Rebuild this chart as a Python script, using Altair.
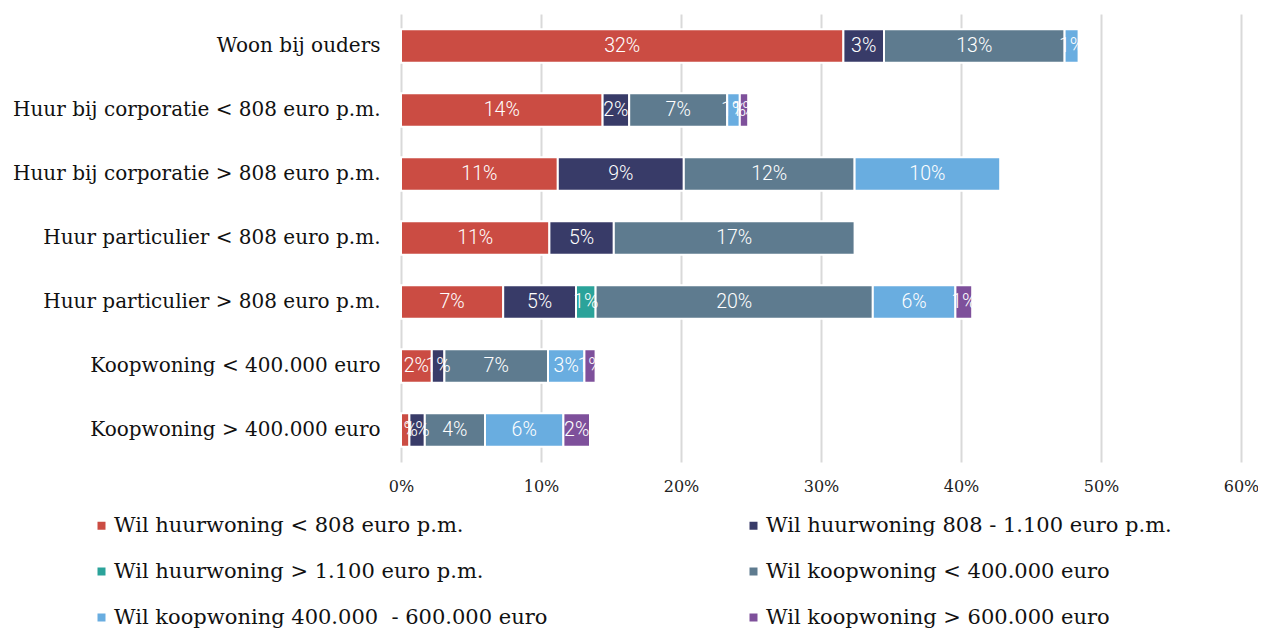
import altair as alt
import pandas as pd

categories = [
    "Woon bij ouders",
    "Huur bij corporatie < 808 euro p.m.",
    "Huur bij corporatie > 808 euro p.m.",
    "Huur particulier < 808 euro p.m.",
    "Huur particulier > 808 euro p.m.",
    "Koopwoning < 400.000 euro",
    "Koopwoning > 400.000 euro",
]

series = [
    "Wil huurwoning < 808 euro p.m.",
    "Wil huurwoning 808 - 1.100 euro p.m.",
    "Wil huurwoning > 1.100 euro p.m.",
    "Wil koopwoning < 400.000 euro",
    "Wil koopwoning 400.000\u00a0 - 600.000 euro",
    "Wil koopwoning > 600.000 euro",
]

colors = ["#CB4C43", "#383B68", "#2BA39A", "#5E7B8F", "#69ADE0", "#7E509B"]

# values in percent, per series, per category (None = absent)
huur_lt808 = [31.6, 14.4, 11.2, 10.6, 7.3, 2.2, 0.6]
huur_808_1100 = [2.9, 1.9, 9.0, 4.6, 5.2, 0.9, 1.1]
huur_gt1100 = [None, None, None, None, 1.4, None, None]
koop_lt400 = [12.9, 7.0, 12.2, 17.2, 19.8, 7.4, 4.3]
koop_400_600 = [1.0, 0.9, 10.4, None, 5.9, 2.6, 5.6]
koop_gt600 = [None, 0.6, None, None, 1.2, 0.8, 1.9]

all_series = [huur_lt808, huur_808_1100, huur_gt1100, koop_lt400, koop_400_600, koop_gt600]

rows = []
for si, (name, vals) in enumerate(zip(series, all_series)):
    for ci, v in enumerate(vals):
        if v is None:
            continue
        rows.append({"cat": categories[ci], "serie": name, "order": si,
                     "value": v, "label": f"{int(v + 0.5)}%"})
df = pd.DataFrame(rows)

SERIF = "DejaVu Serif"

base = alt.Chart(df).transform_stack(
    stack="value", groupby=["cat"], as_=["x0", "x1"],
    sort=[alt.SortField("order", order="ascending")]
)

y_enc = alt.Y("cat:N", sort=categories, title=None,
              scale=alt.Scale(paddingInner=0.48, paddingOuter=0.24),
              axis=alt.Axis(labelFont=SERIF, labelFontSize=20, labelColor="#111",
                            labelPadding=21, ticks=False, domain=False, grid=False,
                            labelLimit=500))

bars = base.mark_bar(stroke="white", strokeWidth=2).encode(
    x=alt.X("x0:Q", title=None,
            scale=alt.Scale(domain=[0, 60], nice=False),
            axis=alt.Axis(values=[0, 10, 20, 30, 40, 50, 60],
                          labelExpr="datum.value + '%'",
                          labelFont=SERIF, labelFontSize=16, labelColor="#222",
                          labelPadding=16, ticks=False, domain=False,
                          labelFlush=False, labelOverlap=False,
                          grid=True, gridColor="#d9d9d9", gridWidth=2)),
    x2="x1:Q",
    y=y_enc,
    color=alt.Color("serie:N", sort=series,
                    scale=alt.Scale(domain=series, range=colors),
                    legend=alt.Legend(title=None, orient="none",
                                      legendX=-310, legendY=501,
                                      direction="horizontal",
                                      columns=2, columnPadding=195,
                                      rowPadding=24,
                                      symbolType="square", symbolSize=64,
                                      symbolStrokeWidth=0,
                                      labelFont=SERIF, labelFontSize=21,
                                      labelColor="#111", labelOffset=2,
                                      labelLimit=600)),
    order=alt.Order("order:Q"),
)

texts = base.transform_calculate(mid="(datum.x0 + datum.x1) / 2").mark_text(
    color="white", font="Roboto", fontSize=19.5, fontWeight=300,
    baseline="middle", align="center"
).encode(
    x="mid:Q",
    y=alt.Y("cat:N", sort=categories),
    text="label:N",
)

chart = alt.layer(bars, texts).properties(
    width=840, height=448,
    autosize=alt.AutoSizeParams(type="none"),
    padding={"left": 393, "top": 6, "right": 17, "bottom": 166},
).configure_view(stroke=None)

chart.save("out.html", embed_options={"renderer": "svg", "actions": False})
